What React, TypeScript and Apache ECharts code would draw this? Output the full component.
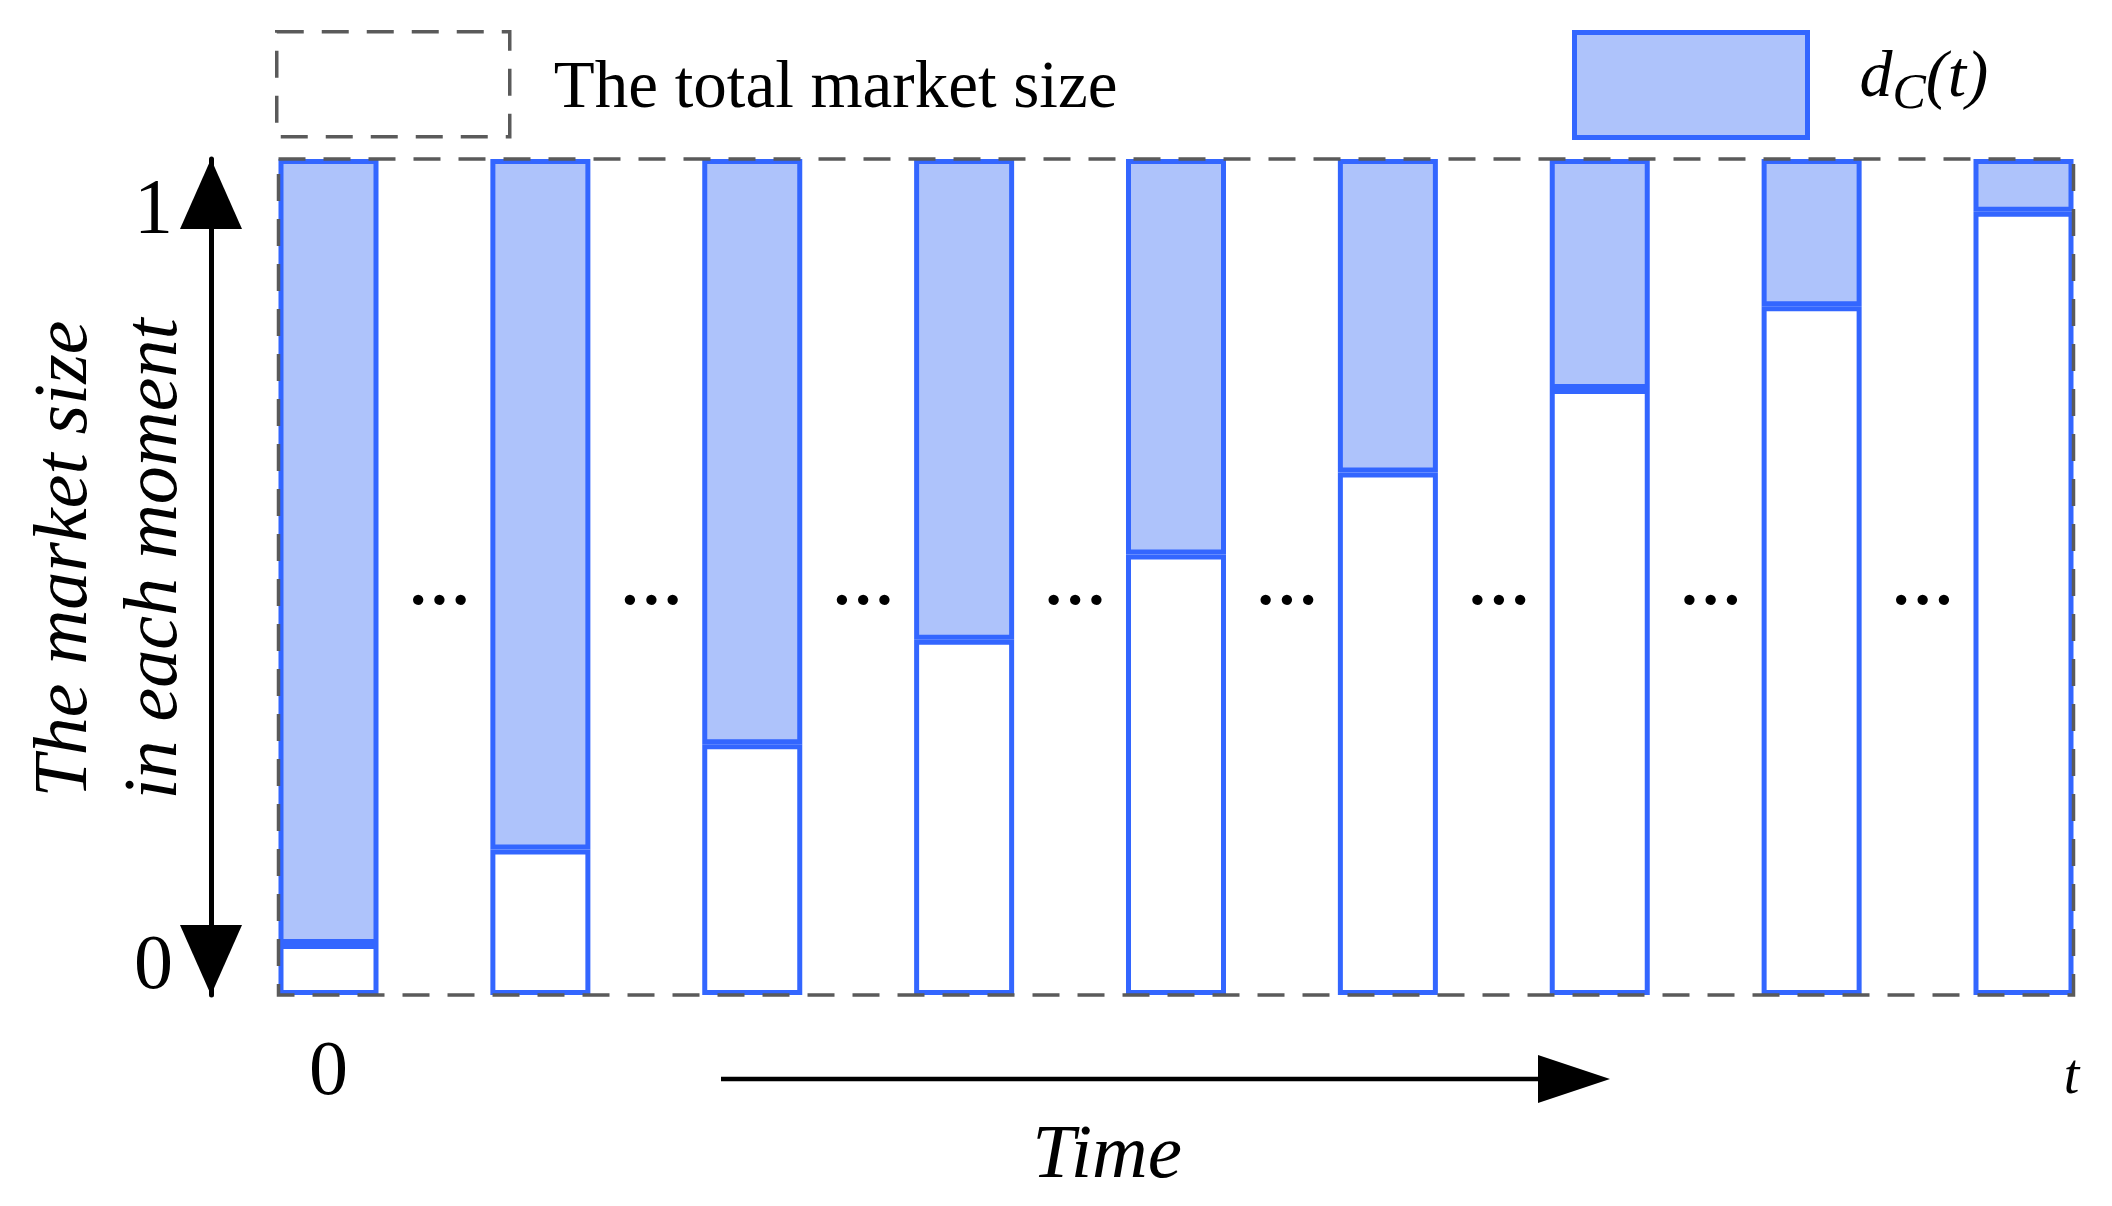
import React, { useEffect, useRef } from 'react';
import * as echarts from 'echarts';

// ---- data ----
const timeLabels = ['0', '', '', '', '', '', '', '', 't'];
// share of the market that is already taken (white, lower part of each bar)
const remainingShare = [0.061, 0.174, 0.3, 0.425, 0.527, 0.625, 0.725, 0.824, 0.937];
// d_C(t): blue, upper part of each bar
const dcShare = [0.939, 0.826, 0.7, 0.575, 0.473, 0.375, 0.275, 0.176, 0.063];
const yTickLabels = ['0', '1'];
const gapIndex = [0, 1, 2, 3, 4, 5, 6, 7];
const gapLevel = 0.473;
const totalMarket = [[0, 1, 8, 0]];

const BLUE = '#3366ff';
const FILL = '#aec3fb';
const GRAY = '#5a5a5a';
const SERIF = '"Liberation Serif", "Times New Roman", serif';
const BAR_RATIO = 0.472;

export default function App() {
  const ref = useRef<HTMLDivElement>(null);
  useEffect(() => {
    document.body.style.margin = '0';
    const chart = echarts.init(ref.current!, null, { renderer: 'svg' });
    const option: any = {
      animation: false,
      backgroundColor: '#ffffff',
      grid: { left: 328.5, right: 88.5, top: 159, bottom: 211, containLabel: false, outerBoundsMode: 'none' },
      legend: [
        {
          selectedMode: false,
          padding: 0,
          left: 275,
          top: 30,
          itemWidth: 233,
          itemHeight: 105,
          data: [
            {
              name: 'The total market size',
              icon: 'rect',
              itemStyle: { color: 'rgba(255,255,255,0)', borderColor: GRAY, borderWidth: 3.5, borderType: [27, 18] },
            },
          ],
          textStyle: { fontFamily: SERIF, fontSize: 67, color: '#000', padding: [0, 0, 16, 39] },
        },
        {
          selectedMode: false,
          padding: 0,
          left: 1572,
          top: 30,
          itemWidth: 233,
          itemHeight: 105,
          data: [
            {
              name: 'dC(t)',
              icon: 'rect',
              itemStyle: { color: FILL, borderColor: BLUE, borderWidth: 5 },
            },
          ],
          formatter: () => '{d|d}{s|C}{p|(t)}',
          textStyle: {
            color: '#000',
            rich: {
              d: { fontFamily: SERIF, fontStyle: 'italic', fontSize: 66, color: '#000', verticalAlign: 'bottom', padding: [0, 0, 23, 47] },
              s: { fontFamily: SERIF, fontStyle: 'italic', fontSize: 50, color: '#000', verticalAlign: 'bottom', padding: [0, 0, 14, 0] },
              p: { fontFamily: SERIF, fontStyle: 'italic', fontSize: 66, color: '#000', verticalAlign: 'bottom', padding: [0, 0, 23, 0] },
            },
          },
        },
      ],
      xAxis: {
        type: 'category',
        data: timeLabels,
        boundaryGap: false,
        axisLine: { show: false },
        axisTick: { show: false },
        splitLine: { show: false },
        axisLabel: {
          interval: 0,
          margin: 21,
          formatter: (v: string, i: number) => (i === timeLabels.length - 1 ? '{t|' + v + '}' : '{n|' + v + '}'),
          rich: {
            n: { fontFamily: SERIF, fontSize: 78, color: '#000', lineHeight: 90, verticalAlign: 'bottom' },
            t: { fontFamily: SERIF, fontStyle: 'italic', fontSize: 56, color: '#000', lineHeight: 86, verticalAlign: 'bottom', padding: [0, 0, 0, 96] },
          },
        },
        name: 'Time',
        nameLocation: 'middle',
        nameGap: 117,
        nameMoveOverlap: false,
        nameTextStyle: { fontFamily: SERIF, fontStyle: 'italic', fontSize: 77, color: '#000', padding: [0, 138, 0, 0] },
      },
      yAxis: {
        type: 'value',
        min: 0,
        max: 1,
        interval: 1,
        offset: 117.5,
        axisLine: {
          show: true,
          symbol: ['triangle', 'triangle'],
          symbolSize: [62, 70],
          symbolOffset: [35, -35],
          lineStyle: { color: '#000', width: 5 },
        },
        axisTick: { show: false },
        splitLine: { show: false },
        axisLabel: {
          margin: 38,
          formatter: (v: number) => (v === 1 ? '{hi|' + yTickLabels[1] + '}' : '{lo|' + yTickLabels[0] + '}'),
          rich: {
            hi: { fontFamily: SERIF, fontSize: 78, color: '#000', padding: [92, 0, 0, 0] },
            lo: { fontFamily: SERIF, fontSize: 78, color: '#000', padding: [0, 0, 68, 0] },
          },
        },
        name: 'The market size\nin each moment',
        nameLocation: 'middle',
        nameRotate: 90,
        nameGap: 16,
        nameMoveOverlap: false,
        nameTextStyle: { fontFamily: SERIF, fontStyle: 'italic', fontSize: 76, lineHeight: 90, color: '#000', padding: [0, 0, 0, 36] },
      },
      series: [
        {
          name: 'remaining',
          type: 'bar',
          stack: 'share',
          barWidth: (BAR_RATIO * 100).toFixed(1) + '%',
          data: remainingShare,
          itemStyle: { color: '#ffffff', borderColor: BLUE, borderWidth: 5 },
          z: 2,
        },
        {
          name: 'dC(t)',
          type: 'bar',
          stack: 'share',
          data: dcShare,
          itemStyle: { color: FILL, borderColor: BLUE, borderWidth: 5 },
          z: 2,
        },
        {
          name: 'The total market size',
          type: 'custom',
          silent: true,
          z: 4,
          encode: { x: [0, 2], y: [1, 3] },
          data: totalMarket,
          itemStyle: { color: 'rgba(255,255,255,0)' },
          renderItem: (params: any, api: any) => {
            const tl = api.coord([api.value(0), api.value(1)]);
            const br = api.coord([api.value(2), api.value(3)]);
            const half = (api.size([1, 0])[0] * BAR_RATIO) / 2;
            return {
              type: 'rect',
              shape: { x: tl[0] - half, y: tl[1], width: br[0] - tl[0] + 2 * half, height: br[1] - tl[1] },
              style: { fill: 'none', stroke: GRAY, lineWidth: 3.5, lineDash: [27, 18] },
            };
          },
        },
        {
          name: 'gaps',
          type: 'custom',
          silent: true,
          z: 3,
          data: gapIndex.map((i) => [i, gapLevel]),
          renderItem: (params: any, api: any) => {
            const a = api.coord([api.value(0), api.value(1)]);
            const b = api.coord([api.value(0) + 1, api.value(1)]);
            return {
              type: 'text',
              x: (a[0] + b[0]) / 2 + 5,
              y: a[1],
              style: {
                text: '···',
                fontFamily: SERIF,
                fontSize: 64,
                fontWeight: 'bold',
                fill: '#000',
                align: 'center',
                verticalAlign: 'middle',
              },
            };
          },
        },
      ],
      graphic: [
        { type: 'line', shape: { x1: 721, y1: 1079, x2: 1548, y2: 1079 }, style: { stroke: '#000', lineWidth: 4.5 } },
        { type: 'polygon', shape: { points: [[1538, 1055], [1610, 1079], [1538, 1103]] }, style: { fill: '#000' } },
      ],
    };
    chart.setOption(option);
    return () => chart.dispose();
  }, []);
  return <div ref={ref} style={{ width: 2112, height: 1206 }} />;
}
